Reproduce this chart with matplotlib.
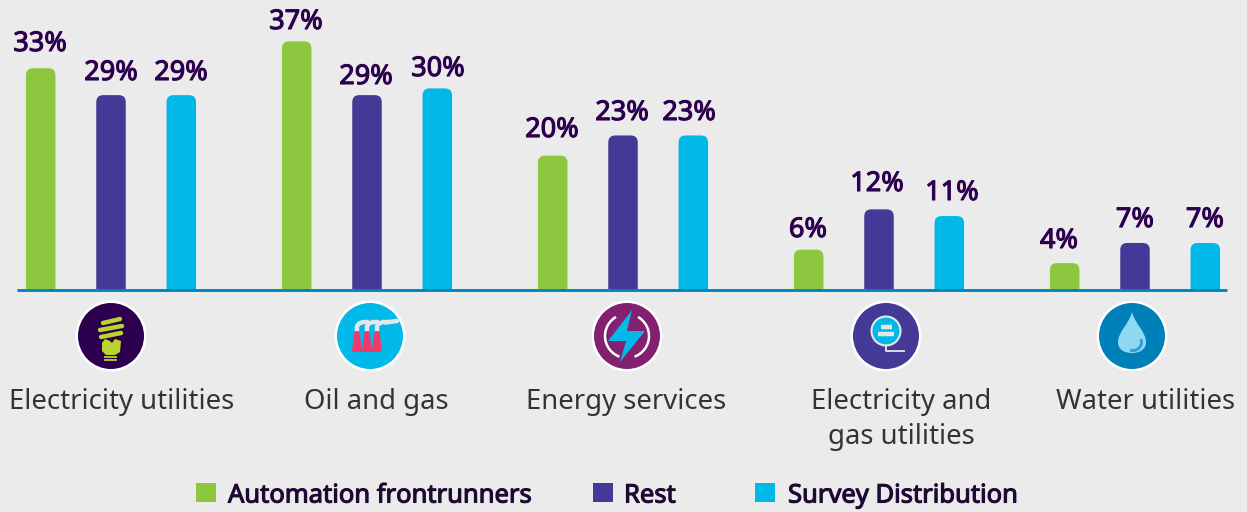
import numpy as np
import matplotlib
matplotlib.use("Agg")
import matplotlib.pyplot as plt
import matplotlib.patheffects as pe
from matplotlib.patches import FancyBboxPatch, Rectangle, Circle, Polygon, Arc, PathPatch
from matplotlib.path import Path

categories = ["Electricity utilities", "Oil and gas", "Energy services", "Electricity and\ngas utilities", "Water utilities"]
series_names = ["Automation frontrunners", "Rest", "Survey Distribution"]
frontrunners = [33, 37, 20, 6, 4]
rest = [29, 29, 23, 12, 7]
survey = [29, 30, 23, 11, 7]
series_colors = ["#8DC63F", "#423A96", "#00B9E9"]

W, H = 1247, 512
BG = "#EBEBEB"
FONT = ["Noto Sans", "DejaVu Sans"]
PX_PER_GROUP, PX_PER_PCT, X0, BASE = 256.0, 6.72, 111.0, 290.0
faux_bold = lambda c, w: [pe.withStroke(linewidth=w, foreground=c)]

fig = plt.figure(figsize=(W / 100, H / 100), dpi=100, facecolor=BG)
ax = fig.add_axes([0, 0, 1, 1])
ax.set_xlim(-X0 / PX_PER_GROUP, (W - X0) / PX_PER_GROUP)
ax.set_ylim((BASE - H) / PX_PER_PCT, BASE / PX_PER_PCT)
ax.axis("off")

# pixel-space overlay for text placement, icons and legend
px = fig.add_axes([0, 0, 1, 1], facecolor="none")
px.set_xlim(0, W)
px.set_ylim(H, 0)
px.axis("off")

offset = 70.3 / PX_PER_GROUP
width = 29.5 / PX_PER_GROUP
radius = 7 / PX_PER_GROUP
aspect = PX_PER_GROUP / PX_PER_PCT
# label placement in the reference is hand-tuned, one row per series
label_px = [
    [(40, 43), (296, 21), (552, 129), (808, 229), (1059, 240)],
    [(111, 72), (366, 76), (622, 112), (877, 183), (1135, 219)],
    [(181, 72), (438, 68), (689, 112), (952, 192), (1205, 219)],
]
for i, (vals, col, places) in enumerate(zip([frontrunners, rest, survey], series_colors, label_px)):
    bars = ax.bar(np.arange(5) + (i - 1) * offset, vals, width=width, color="none")
    for b, v, (lx, ly) in zip(bars, vals, places):
        x, w = b.get_x(), b.get_width()
        p = FancyBboxPatch((x, -3), w, v + 3, boxstyle=f"round,pad=0,rounding_size={radius}",
                           mutation_aspect=aspect, fc=col, ec="none")
        ax.add_patch(p)
        p.set_clip_path(Rectangle((x - 1, 0), w + 2, 100, transform=ax.transData))
        px.text(lx, ly + 1, f"{v}%", ha="center", va="center", family=FONT, fontsize=19.5, color="#2D004F",
                path_effects=faux_bold("#2D004F", 0.8))

px.plot([17, 1227], [290, 290], color="#0086BF", lw=2.1, solid_capstyle="butt")

label_x = [122, 376, 626, 901, 1146]
for lx, c in zip(label_x, categories):
    px.text(lx, 388, c, ha="center", va="top", family=FONT, fontsize=19.8, color="#333333",
            linespacing=1.32)

# icons
icon_x = [111, 370, 627, 886, 1132]
icon_bg = ["#2D004F", "#00B9E9", "#832070", "#423A96", "#0080B8"]
for cx, c in zip(icon_x, icon_bg):
    px.add_patch(Circle((cx, 336), 35.5, fc="white", ec="none"))
    px.add_patch(Circle((cx, 336), 33, fc=c, ec="none"))

# bulb
cx, cy = icon_x[0], 336
lime = "#B9D52B"
for y, x1, x2 in [(321, -8, 9), (328, -11, 11), (335, -10, 10)]:
    px.plot([cx + x1, cx + x2], [y + 2, y - 2], color=lime, lw=3.2, solid_capstyle="round")
px.add_patch(Polygon([(cx - 9, cy + 7), (cx - 6, cy + 3), (cx - 1, cy + 5), (cx + 1, cy + 7), (cx + 4, cy + 3),
                      (cx + 10, cy + 5), (cx + 9, cy + 16), (cx + 4, cy + 19), (cx - 5, cy + 19), (cx - 9, cy + 15)],
                     fc=lime, ec="none"))
for dy in [20.5, 23.5]:
    px.plot([cx - 6, cx + 5], [cy + dy, cy + dy], color=lime, lw=1.3)

# factory
cx = icon_x[1]
red = "#F0386B"
for dx in [-13, -3, 7]:
    px.add_patch(Polygon([(cx + dx - 5.2, 352), (cx + dx - 2.5, 332), (cx + dx + 2.5, 332), (cx + dx + 5.2, 352)],
                         fc=red, ec="none"))
    px.plot([cx + dx, cx + dx, cx + dx + 2, cx + dx + 6, cx + dx + 12], [331, 326, 323.5, 322, 322],
            color="#E3E6EA", lw=3.2, solid_capstyle="butt")
px.plot([cx + 15, cx + 27], [322.5, 321], color="#E3E6EA", lw=3.2, solid_capstyle="round")

# energy services
cx = icon_x[2]
for t1, t2 in [(110, 240), (300, 70)]:
    px.add_patch(Arc((cx, 336), 44, 44, theta1=t1, theta2=t2, color="white", lw=1.8))
px.add_patch(Polygon([(cx + 5, 310), (cx - 19, 341), (cx - 1, 341), (cx - 7, 362), (cx + 18, 331), (cx, 331)],
                     fc="#00B9E9", ec="none"))

# meter
cx = icon_x[3]
px.add_patch(Circle((cx, 331), 14.5, fc="#00B9E9", ec="#E6E6E6", lw=1.5))
for y, hw in [(327, 5.5), (333.5, 8)]:
    px.plot([cx - hw, cx + hw], [y, y], color="#E6E6E6", lw=3.2, solid_capstyle="butt")
px.plot([cx, cx, cx + 18], [345, 351, 351], color="#D9D9E8", lw=1.4)

# drop
cx = icon_x[4]
verts = [(cx, 312), (cx + 3, 324), (cx + 14, 332), (cx + 14, 342), (cx + 14, 350), (cx + 7, 353), (cx, 353),
         (cx - 7, 353), (cx - 14, 350), (cx - 14, 342), (cx - 14, 332), (cx - 3, 324), (cx, 312)]
codes = [Path.MOVETO] + [Path.CURVE4] * 12
px.add_patch(PathPatch(Path(verts, codes), fc="#8FD8F2", ec="none"))
px.add_patch(Arc((cx + 1, 342), 17, 17, theta1=340, theta2=110, color="#2FA3D6", lw=2.2))

# legend
leg_sq = [196, 593, 755]
leg_tx = [228, 624, 788]
for sq, tx, name, col in zip(leg_sq, leg_tx, series_names, series_colors):
    px.add_patch(Rectangle((sq, 483), 20, 19, fc=col, ec="none"))
    px.text(tx, 496, name, ha="left", va="center", family=FONT, fontsize=18.4, color="#1C0A33",
            path_effects=faux_bold("#1C0A33", 0.8))

fig.savefig("out.png", dpi=100, facecolor=BG)
